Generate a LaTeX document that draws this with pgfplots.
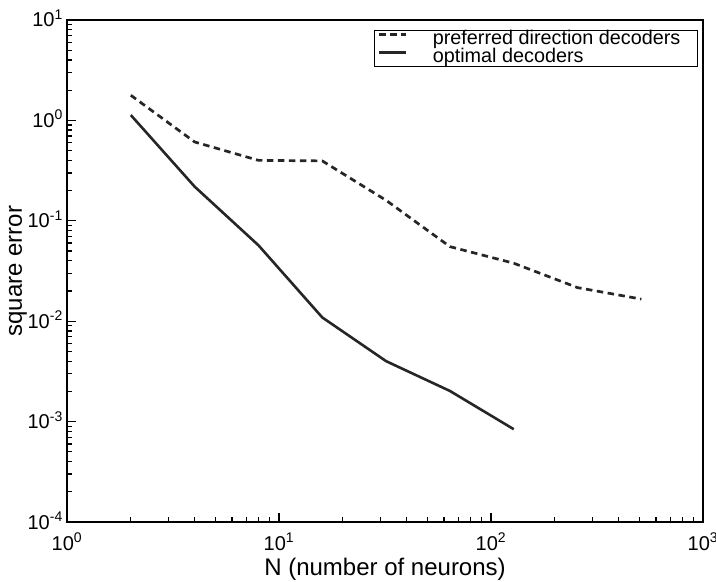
\documentclass[border=0pt]{standalone}
\usepackage{pgfplots}
\pgfplotsset{compat=1.18}
\usepackage{fontspec}
\setmainfont{Liberation Sans}
\definecolor{linecol}{HTML}{262626}
\begin{document}
\begin{tikzpicture}
\useasboundingbox (0,0) rectangle (716bp,582bp);
\begin{axis}[
  at={(67bp,60bp)}, anchor=south west,
  scale only axis, width=636bp, height=502bp,
  xmode=log, ymode=log,
  xmin=1, xmax=1000, ymin=1e-4, ymax=10,
  xtick={1,10,100,1000},
  xticklabels={10\textsuperscript{0},10\textsuperscript{1},10\textsuperscript{2},10\textsuperscript{3}},
  ytick={1e-4,1e-3,1e-2,1e-1,1,10},
  yticklabels={10\textsuperscript{-4},10\textsuperscript{-3},10\textsuperscript{-2},10\textsuperscript{-1},10\textsuperscript{0},10\textsuperscript{1}},
  tick align=inside, tick pos=left,
  major tick length=9bp, minor tick length=5bp,
  tick style={black, line width=1.3bp},
  axis line style={line width=1.2bp},
  xticklabel style={anchor=base, inner sep=0pt, yshift=-28bp, font=\fontsize{20bp}{23bp}\selectfont},
  yticklabel style={anchor=base east, inner sep=0pt, xshift=-4bp, yshift=-7bp, font=\fontsize{20bp}{23bp}\selectfont},
  every axis x label/.style={at={(axis description cs:0.5,-0.1056)}, anchor=base, font=\fontsize{24bp}{28bp}\selectfont},
  every axis y label/.style={at={(axis description cs:-0.0708,0.5)}, rotate=90, anchor=base, font=\fontsize{24bp}{28bp}\selectfont},
  xlabel={N (number of neurons)},
  ylabel={square error},
  legend style={at={(1,1)}, anchor=north east, xshift=-5bp, yshift=-10bp,
    draw=black, line width=1.1bp, inner xsep=4bp, inner ysep=1bp,
    font=\fontsize{19.8bp}{22bp}\selectfont, row sep=2bp, column sep=0bp,
    nodes={inner sep=0pt, text height=12.5bp, text depth=3.5bp}},
  legend cell align=left,
  legend image code/.code={\draw[#1] (0bp,5bp) -- (27bp,5bp);},
]
\addplot[linecol, line width=2.7bp, dash pattern=on 6.5bp off 4.5bp] coordinates {
(2,1.78) (4,0.61) (8,0.40) (16,0.395) (32,0.16) (64,0.0553) (128,0.0378) (256,0.0216) (512,0.0166)};
\addlegendentry{\hspace{25bp}preferred direction decoders\rule{13bp}{0pt}}
\addplot[linecol, line width=2.6bp] coordinates {
(2,1.13) (4,0.219) (8,0.057) (16,0.0109) (32,0.0040) (64,0.00202) (128,0.00084)};
\addlegendentry{\hspace{25bp}optimal decoders}
% axis tick marks (decoration)
\pgfplotsinvokeforeach{10,100}{
  \draw[black, line width=1.3bp] (axis cs:#1,1e-4) -- ([yshift=9bp]axis cs:#1,1e-4);}
\pgfplotsinvokeforeach{2,3,4,5,6,7,8,9,20,30,40,50,60,70,80,90,200,300,400,500,600,700,800,900}{
  \draw[black, line width=1.2bp] (axis cs:#1,1e-4) -- ([yshift=5bp]axis cs:#1,1e-4);}
\pgfplotsinvokeforeach{1e-3,1e-2,1e-1,1}{
  \draw[black, line width=1.3bp] (axis cs:1,#1) -- ([xshift=9bp]axis cs:1,#1);}
\pgfplotsinvokeforeach{2e-4,3e-4,4e-4,5e-4,6e-4,7e-4,8e-4,9e-4,2e-3,3e-3,4e-3,5e-3,6e-3,7e-3,8e-3,9e-3,2e-2,3e-2,4e-2,5e-2,6e-2,7e-2,8e-2,9e-2,0.2,0.3,0.4,0.5,0.6,0.7,0.8,0.9,2,3,4,5,6,7,8,9}{
  \draw[black, line width=1.2bp] (axis cs:1,#1) -- ([xshift=5bp]axis cs:1,#1);}
\end{axis}
\end{tikzpicture}
\end{document}
